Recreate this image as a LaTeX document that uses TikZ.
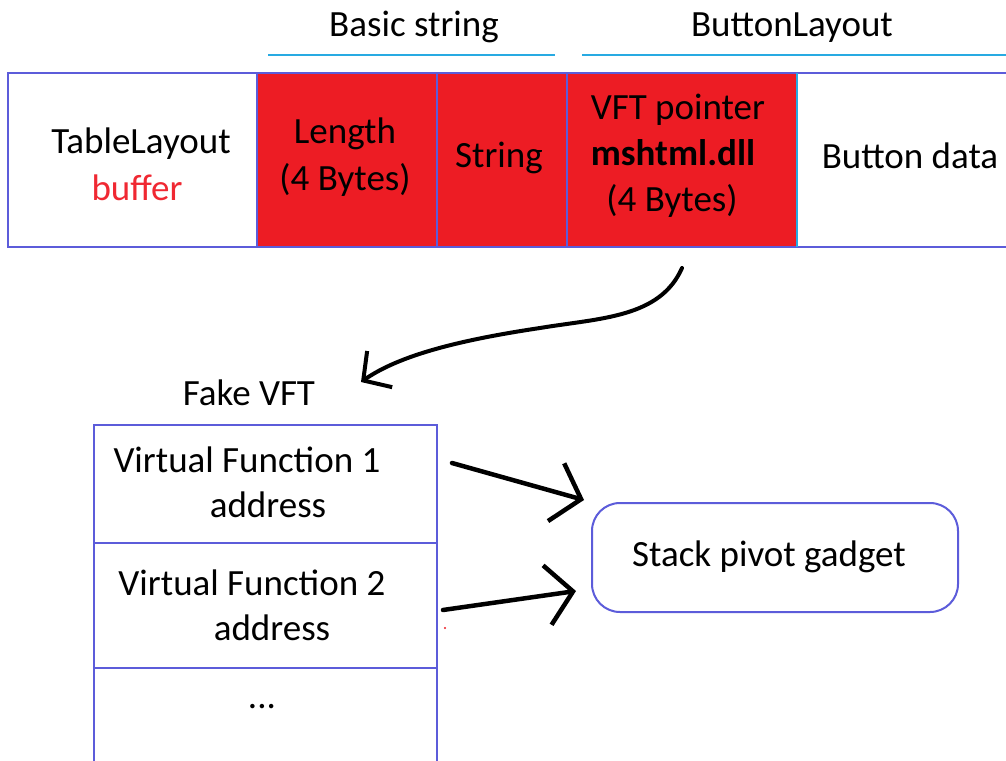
\documentclass[tikz,border=0pt]{standalone}
\usepackage{fontspec}
\setmainfont{Carlito}
\usetikzlibrary{arrows.meta}
\definecolor{boxblue}{RGB}{92,92,218}
\definecolor{lineblue}{RGB}{40,170,226}
\definecolor{memred}{RGB}{237,28,36}
\definecolor{txtred}{RGB}{240,40,50}
\begin{document}
\begin{tikzpicture}[x=1pt,y=-1pt,
  every node/.style={font=\fontsize{37}{46}\selectfont, inner sep=0pt, outer sep=0pt},
  txt/.style={anchor=base},
  cell/.style={draw=boxblue, line width=2pt, anchor=north west},
  redcell/.style={cell, fill=memred},
  openline/.style={draw=boxblue, line width=2pt},
  bracketline/.style={draw=lineblue, line width=2pt},
  hand/.style={line width=4.5pt, line cap=round, line join=round,
    -{Straight Barb[length=26pt,width=60pt,line width=4.5pt]}},
  handcurve/.style={line width=4pt, line cap=round, line join=round,
    -{Straight Barb[length=20pt,width=44pt,line width=4pt]}},
  gadget/.style={draw=boxblue, line width=2pt, rounded corners=28pt}]
\useasboundingbox (0,0) rectangle (1006,760);
\fill[white] (0,0) rectangle (1006,760);

% header brackets
\draw[bracketline] (268,55) -- (555,55);
\draw[bracketline] (582,55) -- (1006,55);
\node[txt] (hbs) at (414,37) {Basic string};
\node[txt] (hbl) at (792,37) {ButtonLayout};

% top memory row
\node[cell, minimum width=249pt, minimum height=174pt] (tl) at (8,73) {};
\node[redcell, minimum width=180pt, minimum height=174pt] (len) at (257,73) {};
\node[redcell, minimum width=130pt, minimum height=174pt] (str) at (437,73) {};
\node[redcell, minimum width=230pt, minimum height=174pt] (vft) at (567,73) {};
\draw[openline] (vft.north east) -- (1006,73);
\draw[openline] (vft.south east) -- (1006,247);
\draw[draw=lineblue, line width=2pt] (vft.north east) -- (vft.south east);
\coordinate (bd) at (901,160);

\node[txt] (tl1) at (141,153) {TableLayout};
\node[txt, text=txtred] (tl2) at (137,200) {buffer};
\node[txt] (len1) at (345,143) {Length};
\node[txt] (len2) at (345,190) {(4 Bytes)};
\node[txt] (str1) at (499,167) {String};
\node[txt] (vft1) at (678,119) {VFT pointer};
\node[txt, font=\fontsize{37}{46}\selectfont\bfseries] (vft2) at (673,165) {mshtml.dll};
\node[txt] (vft3) at (672,211) {(4 Bytes)};
\node[txt] (bd1) at (910,168) {Button data};

% fake VFT
\node[txt] (fvt) at (249,405) {Fake VFT};
\node[cell, minimum width=343pt, minimum height=118pt] (vf1) at (94,425) {};
\node[cell, minimum width=343pt, minimum height=125pt] (vf2) at (94,543) {};
\draw[openline] (vf2.south west) -- (94,762);
\draw[openline] (vf2.south east) -- (437,762);
\coordinate (vf3) at (265,714);

\node[txt] (vf1a) at (247,472) {Virtual Function 1};
\node[txt] (vf1b) at (268,517) {address};
\node[txt] (vf2a) at (252,595) {Virtual Function 2};
\node[txt] (vf2b) at (272,640) {address};
\node[txt] (dots) at (262,708) {...};

% stack pivot gadget
\node[gadget, minimum width=366pt, minimum height=109pt] (spg) at (775,557.5) {};
\node[txt] (spgt) at (769,566) {Stack pivot gadget};

% connectors
\coordinate (cs) at (682,268);
\coordinate (ce) at (361,382);
\draw[handcurve] (cs) .. controls (660,318) and (600,318) .. (540,328)
                      .. controls (460,340) and (400,355) .. (ce);
\coordinate (a1s) at (452,463);
\coordinate (a1e) at (584,500);
\draw[hand] (a1s) -- (a1e);
\coordinate (a2s) at (443,610);
\coordinate (a2e) at (576,591);
\draw[hand] (a2s) -- (a2e);

% small red speck
\fill[memred] (445,628) circle (1.2pt);
\end{tikzpicture}
\end{document}
